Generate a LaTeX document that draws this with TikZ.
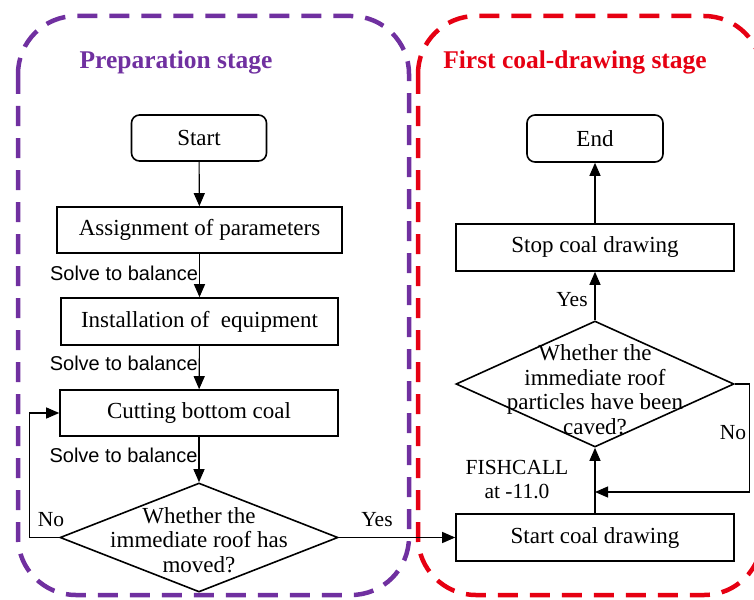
\documentclass[tikz,border=0pt]{standalone}
\usepackage{fontspec}
\setmainfont{Liberation Serif}
\newfontfamily\lblfont{Liberation Sans}
\usetikzlibrary{arrows.meta,shapes.geometric}
\usetikzlibrary{positioning}
\definecolor{prepcolor}{HTML}{7030A0}
\definecolor{drawcolor}{RGB}{230,0,18}
\tikzstyle{terminal} = [rectangle, rounded corners=8pt, minimum width=135pt, minimum height=46pt, text centered, draw=black, line width=1.6pt, font=\fontsize{23}{24.5}\selectfont]
\tikzstyle{process} = [rectangle, minimum width=278pt, minimum height=46pt, text centered, draw=black, line width=1.6pt, font=\fontsize{23}{24.5}\selectfont]
\tikzstyle{decision} = [diamond, minimum width=278pt, inner sep=0pt, draw=black, line width=1.6pt]
\tikzstyle{dtext} = [align=center, inner sep=0pt, font=\fontsize{23}{24.5}\selectfont]
\tikzstyle{flow} = [-{Triangle[length=13pt,width=11pt]}, line width=1.1pt]
\tikzstyle{lbl} = [inner sep=1pt, font=\lblfont\fontsize{20}{22}\selectfont]
\tikzstyle{answer} = [align=center, inner sep=0pt, font=\fontsize{21.5}{24.5}\selectfont]
\tikzstyle{stage} = [dashed, dash pattern=on 20pt off 12pt, line width=4.5pt, rounded corners=58pt]

\begin{document}
\begin{tikzpicture}[x=1pt, y=-1pt]
\useasboundingbox (0,0) rectangle (754,599);

% stage frames
\draw[stage, prepcolor] (18,16) rectangle (409,595);
\draw[stage, drawcolor] (418,16) rectangle (762,595);
\node (preptitle) at (176,62) [text=prepcolor, font=\bfseries\fontsize{25.5}{28}\selectfont] {Preparation stage};
\node (drawtitle) at (575,62) [text=drawcolor, font=\bfseries\fontsize{25.5}{28}\selectfont] {First coal-drawing stage};

% preparation stage
\node (start) at (199,138) [terminal] {Start};
\node (assign) at (199.5,230) [process, minimum width=285pt] {Assignment of parameters};
\node (install) at (199.5,321.5) [process, minimum width=277pt, minimum height=47pt] {Installation of~ equipment};
\node (cut) at (199,413) [process] {Cutting bottom coal};
\node (moved) at (199,537.5) [decision, minimum height=109pt] {};
\node (movedtxt) at ([yshift=-2.5pt]moved.center) [dtext] {Whether the\\immediate roof has\\moved?};

\draw[flow] (start) -- (assign);
\draw[flow] (assign) -- node[lbl, left, pos=0.45] {Solve to balance} (install);
\draw[flow] (install) -- node[lbl, left, pos=0.4] {Solve to balance} (cut);
\draw[flow] (cut) -- node[lbl, left, pos=0.4] {Solve to balance} (moved);
\draw[flow] (moved.west) -- ++(-30,0) |- (cut.west);
\node (movedno) at (51,520) [answer] {No};

% first coal-drawing stage
\node (finish) at (595,138.5) [terminal, minimum width=136pt, minimum height=47pt] {End};
\node (stop) at (595,247.5) [process, minimum height=47pt] {Stop coal drawing};
\node (caved) at (595,384) [decision, minimum height=126pt] {};
\node (cavedtxt) at ([yshift=-5.5pt]caved.center) [dtext] {Whether the\\immediate roof\\particles have been\\caved?};
\node (startcd) at (595,537.5) [process, minimum height=47pt] {Start coal drawing};
\coordinate (fish) at (595,492);

\draw[flow] (moved.east) -- (startcd.west);
\node (movedyes) at (377,520) [answer] {Yes};
\draw[flow] (startcd) -- (caved);
\draw[flow] (caved.east) -- ++(15,0) |- (fish);
\node (cavedno) at (733,433) [answer] {No};
\node (fishcall) at (517,479.5) [answer] {FISHCALL\\at -11.0};
\draw[flow] (caved) -- (stop);
\node (cavedyes) at (572,300) [answer] {Yes};
\draw[flow] (stop) -- (finish);
\end{tikzpicture}
\end{document}
